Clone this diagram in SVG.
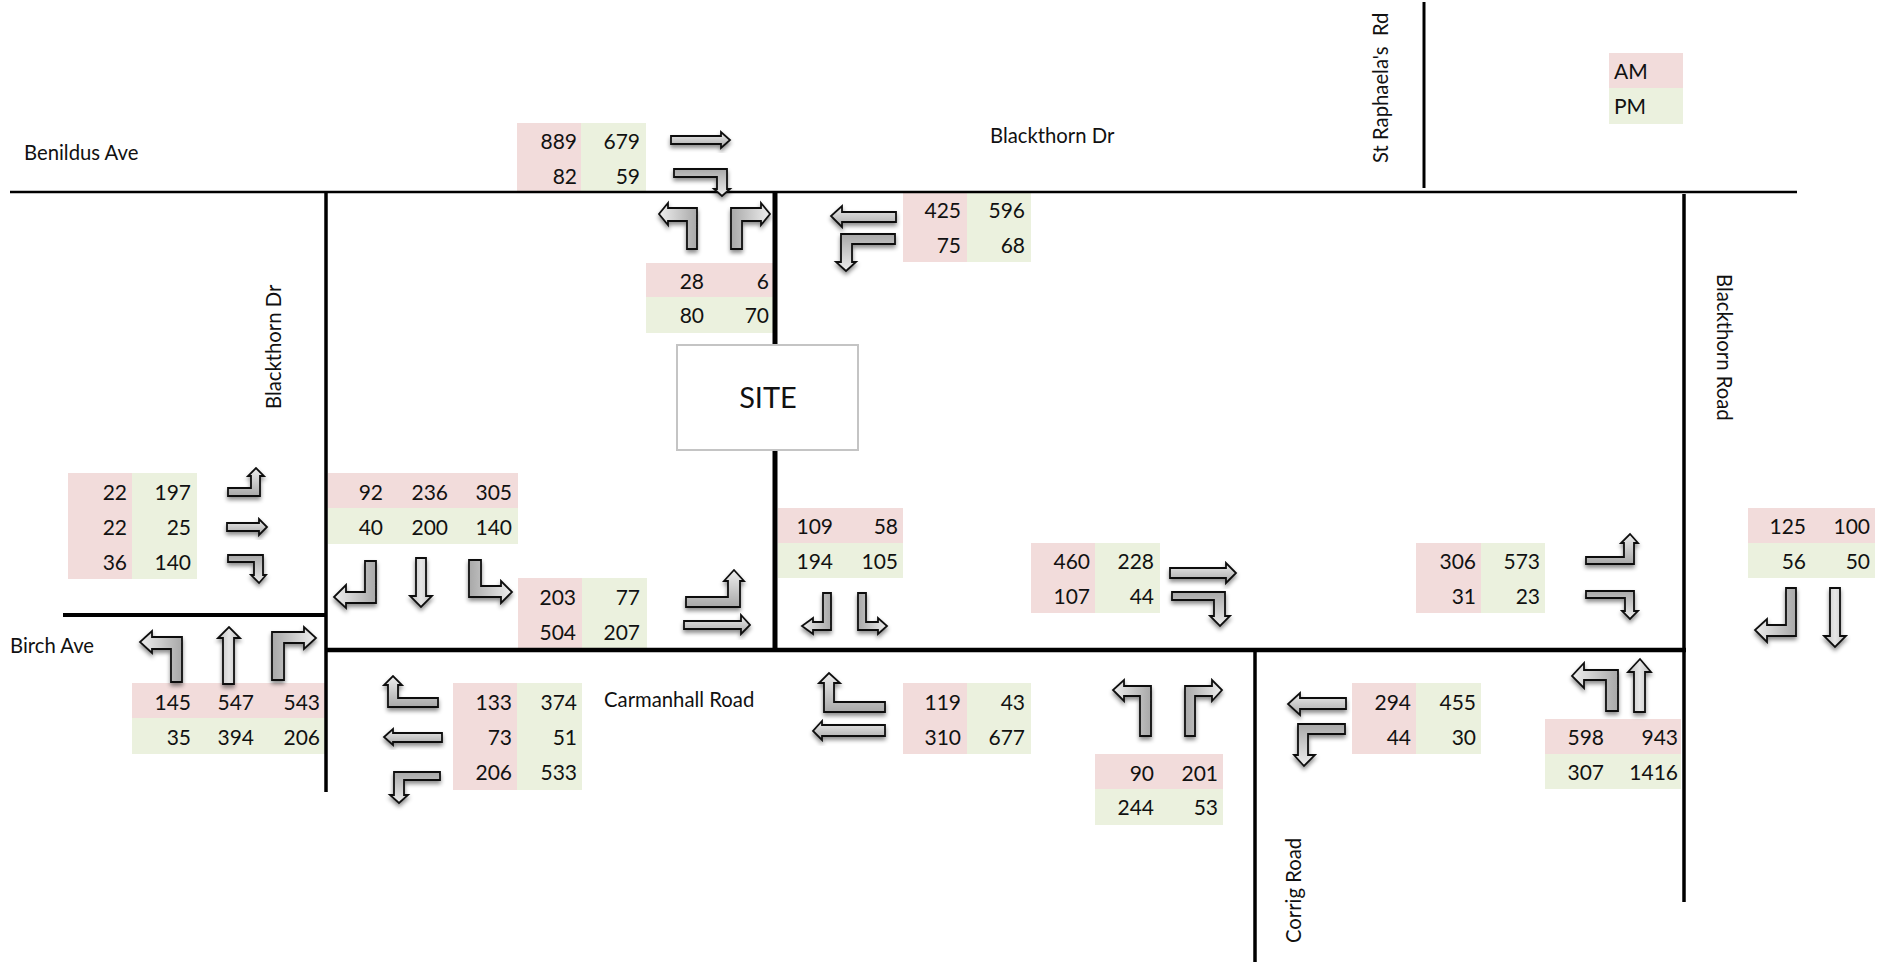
<svg xmlns="http://www.w3.org/2000/svg" width="1881" height="962" viewBox="0 0 1881 962">
<style>
text{font-family:Lato,"Liberation Sans",sans-serif;fill:#111}
.n{font-size:21px;text-anchor:end}
.l{font-size:20.3px}
.a{fill:#f2dcdb}
.p{fill:#ebf1de}
.r{stroke:#000;fill:none}
#arrows polygon{stroke:#111;stroke-width:1.8;filter:url(#s)}
.gu{fill:url(#gu)}
.gd{fill:url(#gd)}
.gl{fill:url(#gl)}
.gr{fill:url(#gr)}
.gc{fill:url(#gc)}
</style>
<defs>
<linearGradient id="gu" x1="0" y1="0" x2="0" y2="1"><stop offset="0" stop-color="#eeeeee"/><stop offset="1" stop-color="#a8a8a8"/></linearGradient>
<linearGradient id="gd" x1="0" y1="1" x2="0" y2="0"><stop offset="0" stop-color="#eeeeee"/><stop offset="1" stop-color="#a8a8a8"/></linearGradient>
<linearGradient id="gl" x1="0" y1="0" x2="1" y2="0"><stop offset="0" stop-color="#eeeeee"/><stop offset="1" stop-color="#a8a8a8"/></linearGradient>
<linearGradient id="gr" x1="1" y1="0" x2="0" y2="0"><stop offset="0" stop-color="#eeeeee"/><stop offset="1" stop-color="#a8a8a8"/></linearGradient>
<linearGradient id="gc" x1="0" y1="0" x2="1" y2="0"><stop offset="0" stop-color="#bdbdbd"/><stop offset=".5" stop-color="#e6e6e6"/><stop offset="1" stop-color="#bdbdbd"/></linearGradient>
<filter id="s" x="-20%" y="-20%" width="140%" height="150%"><feDropShadow dx="0" dy="3" stdDeviation="2" flood-color="#000" flood-opacity=".45"/></filter>
</defs>
<rect width="1881" height="962" fill="#fff"/>

<g id="t1"><rect class="a" x="517" y="123" width="64" height="70"/><rect class="p" x="581" y="123" width="65" height="70"/><text class="n" x="577" y="149">889</text><text class="n" x="640" y="149">679</text><text class="n" x="577" y="184">82</text><text class="n" x="640" y="184">59</text></g>
<g id="t2"><rect class="a" x="903" y="193" width="64" height="69"/><rect class="p" x="967" y="193" width="64" height="69"/><text class="n" x="961" y="218">425</text><text class="n" x="1025" y="218">596</text><text class="n" x="961" y="253">75</text><text class="n" x="1025" y="253">68</text></g>
<g id="t3"><rect class="a" x="646" y="263" width="128" height="34"/><rect class="p" x="646" y="297" width="128" height="36"/><text class="n" x="704" y="289">28</text><text class="n" x="769" y="289">6</text><text class="n" x="704" y="323">80</text><text class="n" x="769" y="323">70</text></g>
<g id="t4"><rect class="a" x="68" y="473" width="64" height="106"/><rect class="p" x="132" y="473" width="65" height="106"/><text class="n" x="127" y="500">22</text><text class="n" x="191" y="500">197</text><text class="n" x="127" y="535">22</text><text class="n" x="191" y="535">25</text><text class="n" x="127" y="570">36</text><text class="n" x="191" y="570">140</text></g>
<g id="t5"><rect class="a" x="328" y="473" width="190" height="35"/><rect class="p" x="328" y="508" width="190" height="36"/><text class="n" x="383" y="500">92</text><text class="n" x="448" y="500">236</text><text class="n" x="512" y="500">305</text><text class="n" x="383" y="535">40</text><text class="n" x="448" y="535">200</text><text class="n" x="512" y="535">140</text></g>
<g id="t6"><rect class="a" x="518" y="578" width="64" height="70"/><rect class="p" x="582" y="578" width="65" height="70"/><text class="n" x="576" y="605">203</text><text class="n" x="640" y="605">77</text><text class="n" x="576" y="640">504</text><text class="n" x="640" y="640">207</text></g>
<g id="t7"><rect class="a" x="132" y="683" width="193" height="35"/><rect class="p" x="132" y="718" width="193" height="36"/><text class="n" x="191" y="710">145</text><text class="n" x="254" y="710">547</text><text class="n" x="320" y="710">543</text><text class="n" x="191" y="745">35</text><text class="n" x="254" y="745">394</text><text class="n" x="320" y="745">206</text></g>
<g id="t8"><rect class="a" x="453" y="683" width="64" height="107"/><rect class="p" x="517" y="683" width="65" height="107"/><text class="n" x="512" y="710">133</text><text class="n" x="577" y="710">374</text><text class="n" x="512" y="745">73</text><text class="n" x="577" y="745">51</text><text class="n" x="512" y="780">206</text><text class="n" x="577" y="780">533</text></g>
<g id="t9"><rect class="a" x="778" y="508" width="125" height="35"/><rect class="p" x="778" y="543" width="125" height="35"/><text class="n" x="833" y="534">109</text><text class="n" x="898" y="534">58</text><text class="n" x="833" y="569">194</text><text class="n" x="898" y="569">105</text></g>
<g id="t10"><rect class="a" x="1031" y="543" width="64" height="70"/><rect class="p" x="1095" y="543" width="65" height="70"/><text class="n" x="1090" y="569">460</text><text class="n" x="1154" y="569">228</text><text class="n" x="1090" y="604">107</text><text class="n" x="1154" y="604">44</text></g>
<g id="t11"><rect class="a" x="903" y="683" width="64" height="71"/><rect class="p" x="967" y="683" width="64" height="71"/><text class="n" x="961" y="710">119</text><text class="n" x="1025" y="710">43</text><text class="n" x="961" y="745">310</text><text class="n" x="1025" y="745">677</text></g>
<g id="t12"><rect class="a" x="1095" y="754" width="128" height="35"/><rect class="p" x="1095" y="789" width="128" height="36"/><text class="n" x="1154" y="781">90</text><text class="n" x="1218" y="781">201</text><text class="n" x="1154" y="815">244</text><text class="n" x="1218" y="815">53</text></g>
<g id="t13"><rect class="a" x="1416" y="543" width="65" height="70"/><rect class="p" x="1481" y="543" width="64" height="70"/><text class="n" x="1476" y="569">306</text><text class="n" x="1540" y="569">573</text><text class="n" x="1476" y="604">31</text><text class="n" x="1540" y="604">23</text></g>
<g id="t14"><rect class="a" x="1748" y="508" width="127" height="35"/><rect class="p" x="1748" y="543" width="127" height="35"/><text class="n" x="1806" y="534">125</text><text class="n" x="1870" y="534">100</text><text class="n" x="1806" y="569">56</text><text class="n" x="1870" y="569">50</text></g>
<g id="t15"><rect class="a" x="1352" y="683" width="64" height="71"/><rect class="p" x="1416" y="683" width="65" height="71"/><text class="n" x="1411" y="710">294</text><text class="n" x="1476" y="710">455</text><text class="n" x="1411" y="745">44</text><text class="n" x="1476" y="745">30</text></g>
<g id="t16"><rect class="a" x="1545" y="719" width="136" height="35"/><rect class="p" x="1545" y="754" width="136" height="35"/><text class="n" x="1604" y="745">598</text><text class="n" x="1678" y="745">943</text><text class="n" x="1604" y="780">307</text><text class="n" x="1678" y="780">1416</text></g>
<g id="legend"><rect class="a" x="1609" y="53" width="74" height="35"/><rect class="p" x="1609" y="88" width="74" height="36"/><text x="1614" y="79" font-size="21">AM</text><text x="1614" y="114" font-size="21">PM</text></g>

<g id="connectors">
<path class="r" stroke-width="2.5" d="M10 192H1797"/>
<path class="r" stroke-width="3" d="M1424 2V188"/>
<path class="r" stroke-width="3.5" d="M326 192V792"/>
<path class="r" stroke-width="5" d="M775 192V345M775 450V650"/>
<path class="r" stroke-width="4" d="M63 615H326"/>
<path class="r" stroke-width="4.5" d="M326 650H1686"/>
<path class="r" stroke-width="3.5" d="M1684 194V902"/>
<path class="r" stroke-width="3.5" d="M1255 652V962"/>
</g>

<g id="site"><rect x="677" y="345" width="181" height="105" fill="#fff" stroke="#c4c4c4" stroke-width="2"/><text x="768" y="408" font-size="29" text-anchor="middle">SITE</text></g>

<g id="labels">
<text class="l" x="24" y="160">Benildus Ave</text>
<text class="l" x="990" y="143">Blackthorn Dr</text>
<text class="l" x="10" y="653">Birch Ave</text>
<text class="l" x="604" y="707">Carmanhall Road</text>
<text class="l" xml:space="preserve" transform="translate(1388 163) rotate(-90)">St Raphaela's  Rd</text>
<text class="l" transform="translate(281 409) rotate(-90)">Blackthorn Dr</text>
<text class="l" transform="translate(1717 274) rotate(90)">Blackthorn Road</text>
<text class="l" transform="translate(1301 943) rotate(-90)">Corrig Road</text>
</g>

<g id="arrows">
<polygon class="gu" points="671,136 721,136 721,132 730,140 721,148 721,144 671,144"/>
<polygon class="gd" points="674,169 727,169 727,189 730,189 722,196 714,189 717,189 717,177 674,177"/>
<polygon class="gu" points="896,212 842,212 842,206 831,216 842,227 842,222 896,222"/>
<polygon class="gd" points="895,234 841,234 841,262 836,262 846,271 856,262 852,262 852,244 895,244"/>
<polygon class="gu" points="228,488 251,488 251,476 248,476 256,468 264,476 260,476 260,496 228,496"/>
<polygon class="gu" points="227,523 259,523 259,519 267,527 259,535 259,531 227,531"/>
<polygon class="gd" points="228,555 263,555 263,575 266,575 259,583 251,575 254,575 254,562 228,562"/>
<polygon class="gu" points="438,698 398,698 398,685 402,685 393,676 384,685 388,685 388,707 438,707"/>
<polygon class="gu" points="442,733 393,733 393,729 384,737 393,745 393,742 442,742"/>
<polygon class="gd" points="440,772 394,772 394,795 390,795 399,803 408,795 404,795 404,780 440,780"/>
<polygon class="gu" points="686,597 728,597 728,581 724,581 734,570 744,581 740,581 740,607 686,607"/>
<polygon class="gu" points="684,621 741,621 741,615 750,625 741,634 741,629 684,629"/>
<polygon class="gu" points="1170,568 1226,568 1226,563 1236,573 1226,583 1226,578 1170,578"/>
<polygon class="gd" points="1172,592 1225,592 1225,616 1230,616 1220,626 1210,616 1214,616 1214,600 1172,600"/>
<polygon class="gu" points="885,702 834,702 834,683 840,683 829,673 819,683 824,683 824,712 885,712"/>
<polygon class="gu" points="885,725 822,725 822,721 813,731 822,740 822,736 885,736"/>
<polygon class="gu" points="1586,557 1624,557 1624,543 1621,543 1630,534 1638,543 1634,543 1634,564 1586,564"/>
<polygon class="gd" points="1586,591 1634,591 1634,611 1638,611 1630,619 1622,611 1625,611 1625,598 1586,598"/>
<polygon class="gu" points="1346,698 1300,698 1300,693 1288,704 1300,715 1300,709 1346,709"/>
<polygon class="gd" points="1345,724 1298,724 1298,755 1294,755 1304,766 1315,755 1308,755 1308,734 1345,734"/>
<polygon class="gl" points="687,249 697,249 697,208 668,208 668,203 659,214 668,225 668,221 687,221"/>
<polygon class="gr" points="731,249 742,249 742,221 761,221 761,225 770,214 761,203 761,208 731,208"/>
<polygon class="gl" points="365,561 376,561 376,603 346,603 346,608 334,597 346,585 346,592 365,592"/>
<polygon class="gc" points="416,558 426,558 426,596 432,596 421,607 410,596 416,596"/>
<polygon class="gr" points="469,560 481,560 481,586 501,586 501,581 512,592 501,603 501,597 469,597"/>
<polygon class="gl" points="171,682 182,682 182,637 152,637 152,631 140,642 152,653 152,649 171,649"/>
<polygon class="gc" points="223,684 234,684 234,638 240,638 229,627 218,638 223,638"/>
<polygon class="gr" points="272,680 284,680 284,643 304,643 304,649 316,638 304,627 304,632 272,632"/>
<polygon class="gl" points="823,593 831,593 831,630 813,630 813,634 802,626 813,618 813,622 823,622"/>
<polygon class="gr" points="858,593 866,593 866,622 878,622 878,618 887,626 878,634 878,630 858,630"/>
<polygon class="gl" points="1140,736 1151,736 1151,686 1124,686 1124,680 1113,690 1124,701 1124,696 1140,696"/>
<polygon class="gr" points="1185,736 1195,736 1195,696 1212,696 1212,701 1222,690 1212,680 1212,686 1185,686"/>
<polygon class="gl" points="1786,588 1796,588 1796,636 1767,636 1767,642 1755,630 1767,619 1767,625 1786,625"/>
<polygon class="gc" points="1830,588 1840,588 1840,636 1846,636 1835,647 1824,636 1830,636"/>
<polygon class="gl" points="1606,711 1618,711 1618,670 1584,670 1584,663 1572,676 1584,688 1584,680 1606,680"/>
<polygon class="gc" points="1634,712 1645,712 1645,672 1651,672 1640,659 1628,672 1634,672"/>
</g>
</svg>
